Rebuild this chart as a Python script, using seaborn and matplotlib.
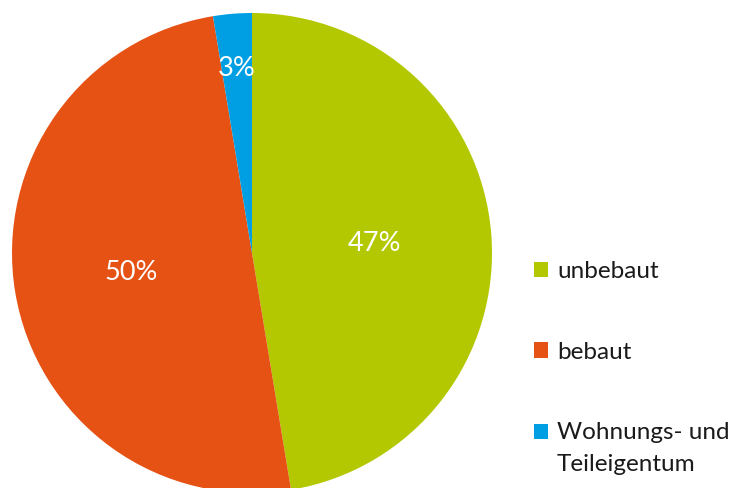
import matplotlib
matplotlib.use("Agg")
import matplotlib.pyplot as plt
import seaborn as sns
import numpy as np

# Data
categories = ["unbebaut", "bebaut", "Wohnungs- und\nTeileigentum"]
shares = [47.4, 50.0, 2.6]
colors = ["#B3C800", "#E65114", "#009FE3"]

sns.set_theme(style="white")
plt.rcParams["font.family"] = ["Lato", "DejaVu Sans"]

W, H = 734, 488
fig = plt.figure(figsize=(W / 100, H / 100), dpi=100)
# pie: center (252,253) px, radius 240 px
cx, cy, r = 252, 253, 240
ax = fig.add_axes([(cx - r) / W, (H - cy - r) / H, 2 * r / W, 2 * r / H])

wedges, texts, autotexts = ax.pie(
    shares, colors=colors, startangle=90, counterclock=False,
    autopct="%.0f%%", pctdistance=0.51,
    wedgeprops=dict(linewidth=0),
    textprops=dict(color="white", fontsize=19.5),
)
ax.set_xlim(-1, 1)
ax.set_ylim(-1, 1)
ax.set_aspect("equal")
ax.axis("off")

# small slice label placed further out
label_radius = [0.51, 0.51, 0.77]
for w, t, lr in zip(wedges, autotexts, label_radius):
    mid = np.deg2rad((w.theta1 + w.theta2) / 2)
    t.set_position((lr * np.cos(mid), lr * np.sin(mid)))

leg = fig.legend(
    wedges, categories, loc="upper left",
    bbox_to_anchor=(534 / W, (H - 261) / H),
    frameon=False, fontsize=17.5, handlelength=0.58, handleheight=0.58,
    handletextpad=0.37, labelspacing=2.45, borderpad=0, borderaxespad=0,
)
for txt in leg.get_texts():
    txt.set_color("#1a1a1a")
    txt.set_linespacing(1.65)

# align the square of the two-line entry with its first line
h3 = leg.legend_handles[2]
h3.set_y(h3.get_y() + 17 * 72 / 100)

fig.savefig("out.png", dpi=100)
